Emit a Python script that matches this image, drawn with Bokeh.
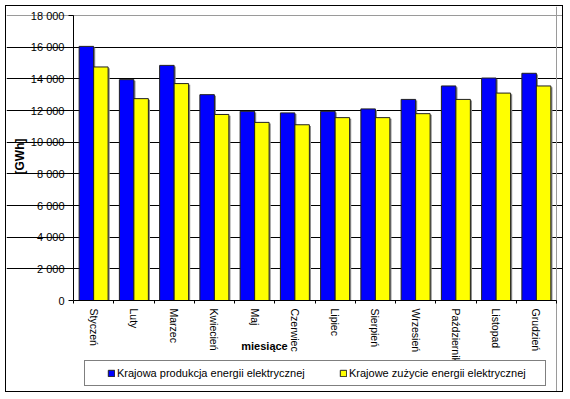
import numpy as np
from bokeh.plotting import figure
from bokeh.models import (FixedTicker, Range1d, Legend, LegendItem, Label,
                          ColumnDataSource, Grid)
from bokeh.transform import dodge
from bokeh.embed import file_html
from bokeh.resources import INLINE

# ---- data -------------------------------------------------------------
months = ["Styczeń", "Luty", "Marzec", "Kwiecień", "Maj", "Czerwiec",
          "Lipiec", "Sierpień", "Wrzesień", "Październik", "Listopad", "Grudzień"]
produkcja = [16050, 13950, 14850, 13000, 11950, 11850,
             11950, 12100, 12700, 13550, 14050, 14350]
zuzycie = [14750, 12750, 13700, 11750, 11250, 11100,
           11550, 11550, 11800, 12700, 13100, 13550]
y_ticks = [0, 2000, 4000, 6000, 8000, 10000, 12000, 14000, 16000, 18000]
series_names = ["Krajowa produkcja energii elektrycznej",
                "Krajowe zużycie energii elektrycznej"]
series_colors = ["#0000FF", "#FFFF00"]
x_title = "miesiące"
y_title = "[GWh]"

FONT = "Liberation Sans"

# ---- layout (pixels of the page) ---------------------------------------
OX, OY, W, H = 6, 6, 558, 387          # canvas origin and size
PL, PR, PT, PB = 73, 556, 15, 300      # plot area edges
n = len(months)
ymax_v = y_ticks[-1]
xs = (PR - PL) / n
ys = (PB - PT) / ymax_v
x_lo = -(PL - OX) / xs
x_hi = n + (OX + W - PR) / xs
y_hi = ymax_v + (PT - OY) / ys
y_lo = -(OY + H - PB) / ys


def px_x(px):
    return (px - PL) / xs


def px_y(py):
    return (PB - py) / ys


centers = [i + 0.5 for i in range(n)]
src = ColumnDataSource(dict(
    x=centers,
    prod=produkcja,
    zuz=zuzycie,
    prod_sh=[v - 1.2 / ys for v in produkcja],
    zuz_sh=[v - 1.2 / ys for v in zuzycie],
))

p = figure(width=W, height=H,
           x_range=Range1d(x_lo, x_hi), y_range=Range1d(y_lo, y_hi),
           output_backend="svg", toolbar_location=None,
           min_border_left=0, min_border_right=0,
           min_border_top=0, min_border_bottom=0)
p.styles = {"border": "1px solid #000000", "margin": "5px 0px 0px 5px"}
p.background_fill_color = "white"
p.border_fill_color = "white"
p.outline_line_color = None

bw = 0.36
sh = 1.6 / xs
# shadows
for fld, off in (("prod_sh", -bw / 2 + sh), ("zuz_sh", bw / 2 + sh)):
    p.vbar(x=dodge("x", off, range=p.x_range), top=fld, width=bw, source=src,
           fill_color="#8a8a8a", line_color=None)

r1 = p.vbar(x=dodge("x", -bw / 2, range=p.x_range), top="prod", width=bw,
            source=src, fill_color=series_colors[0], line_color="#202020",
            line_width=1)
r2 = p.vbar(x=dodge("x", bw / 2, range=p.x_range), top="zuz", width=bw,
            source=src, fill_color=series_colors[1], line_color="#202020",
            line_width=1)

# grid
p.xgrid.visible = False
p.ygrid.ticker = FixedTicker(ticks=y_ticks[1:-1])
p.ygrid.bounds = (0, n)
p.ygrid.grid_line_color = "black"
p.ygrid.grid_line_width = 1
p.ygrid.level = "underlay"
# plot-area border (top and right, grey)
p.add_layout(Grid(dimension=1, ticker=FixedTicker(ticks=[ymax_v]),
                  bounds=(0, n), grid_line_color="#9a9a9a"))
p.add_layout(Grid(dimension=0, ticker=FixedTicker(ticks=[n]),
                  bounds=(0, ymax_v), grid_line_color="#9a9a9a"))

# x axis
xa = p.xaxis[0]
xa.fixed_location = 0
xa.bounds = (0, n)
xa.ticker = FixedTicker(ticks=centers, minor_ticks=list(range(n + 1)))
xa.major_label_overrides = {c: m for c, m in zip(centers, months)}
xa.major_tick_in = 0
xa.major_tick_out = 0
xa.minor_tick_in = 0
xa.minor_tick_out = 3
xa.minor_tick_line_color = "black"
xa.axis_line_color = "black"
xa.major_label_orientation = "vertical"
xa.major_label_standoff = 5
xa.major_label_text_font = FONT
xa.major_label_text_font_size = "10.5px"
xa.major_label_text_color = "black"

# y axis
ya = p.yaxis[0]
ya.fixed_location = 0
ya.bounds = (0, ymax_v)
ya.ticker = FixedTicker(ticks=y_ticks, minor_ticks=[])
ya.major_label_overrides = {v: f"{v:,}".replace(",", " ") for v in y_ticks}
ya.major_tick_in = 0
ya.major_tick_out = 5
ya.minor_tick_in = 0
ya.minor_tick_out = 0
ya.major_tick_line_color = "black"
ya.axis_line_color = "black"
ya.major_label_standoff = 4
ya.major_label_text_font = FONT
ya.major_label_text_font_size = "11px"
ya.major_label_text_color = "black"

# axis titles
p.add_layout(Label(x=px_x(264), y=px_y(345), text=x_title, text_font=FONT,
                   text_font_size="11px", text_font_style="bold",
                   text_align="center", text_baseline="middle",
                   text_color="black"))
p.add_layout(Label(x=px_x(19), y=px_y(156), text=y_title, text_font=FONT,
                   text_font_size="12px", text_font_style="bold",
                   text_align="center", text_baseline="middle",
                   angle=np.pi / 2, text_color="black"))

# legend
legend = Legend(items=[LegendItem(label=series_names[0], renderers=[r1]),
                       LegendItem(label=series_names[1], renderers=[r2])],
                orientation="horizontal", location=(84 - OX, OY + H - 386),
                border_line_color="black", border_line_width=1,
                background_fill_color="white", background_fill_alpha=1,
                label_text_font=FONT, label_text_font_size="11px",
                label_text_color="black",
                title=" ", title_location="left", title_standoff=4,
                title_text_font_size="11px",
                glyph_width=8, glyph_height=8, label_standoff=2,
                label_width=190, spacing=32, padding=6, margin=0)
p.add_layout(legend, "center")

open("out.html", "w").write(file_html(p, INLINE))
